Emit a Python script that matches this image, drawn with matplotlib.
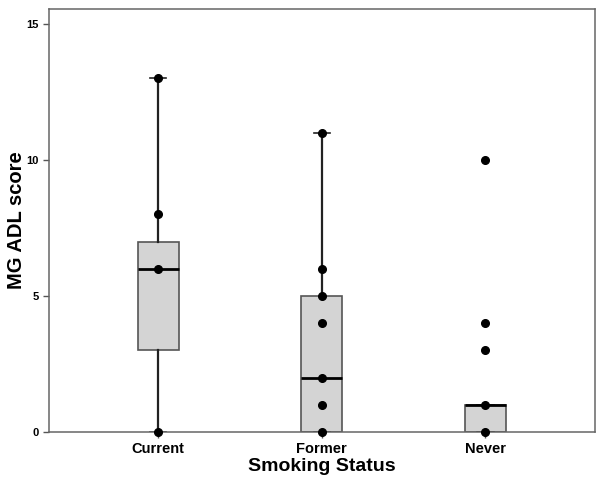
import matplotlib.pyplot as plt

# Smoking status groups and box statistics
groups = ['Current', 'Former', 'Never']
q1 = [3, 0, 0]
median = [6, 2, 1]
q3 = [7, 5, 1]
whis_lo = [0, 0, 0]
whis_hi = [13, 11, 1]

# individual observations drawn on top of each box
points_current = [13, 8, 6, 0]
points_former = [11, 6, 5, 4, 2, 1, 0]
points_never = [10, 4, 3, 1, 0]
points = [points_current, points_former, points_never]

yticks = [0, 5, 10, 15]

plt.rcParams['font.family'] = ['Liberation Sans', 'DejaVu Sans']
plt.rcParams['font.weight'] = 'bold'

fig = plt.figure(figsize=(6.04, 4.86), dpi=100)
ax = fig.add_axes([49 / 604, 1 - 432 / 486, (595 - 49) / 604, (432 - 9) / 486])

stats = []
for i in range(len(groups)):
    stats.append({'label': groups[i], 'q1': q1[i], 'med': median[i], 'q3': q3[i],
                  'whislo': whis_lo[i], 'whishi': whis_hi[i], 'fliers': []})

pos = [1, 2, 3]
ax.bxp(stats, positions=pos, widths=0.25, patch_artist=True, showfliers=False,
       boxprops=dict(facecolor='#d4d4d4', edgecolor='#555555', linewidth=1.2),
       medianprops=dict(color='black', linewidth=2),
       whiskerprops=dict(color='#222222', linewidth=1.6),
       capprops=dict(color='#222222', linewidth=1.2), capwidths=0.1)

for i, vals in enumerate(points):
    ax.plot([pos[i]] * len(vals), vals, 'o', color='black', markersize=5.5,
            zorder=5, clip_on=False)

ax.set_xlim(0.333, 3.67)
ax.set_ylim(0, 15.55)
ax.set_yticks(yticks)
ax.set_yticklabels([str(t) for t in yticks], fontsize=8, fontweight='bold')
ax.set_xticks(pos)
ax.set_xticklabels(groups, fontsize=10.5, fontweight='bold')
ax.tick_params(axis='both', direction='out', length=4, color='#555555', width=1)
for s in ax.spines.values():
    s.set_color('#666666')
    s.set_linewidth(1.1)

ax.set_xlabel('Smoking Status', fontsize=14, fontweight='bold', labelpad=1)
ax.set_ylabel('MG ADL score', fontsize=14.5, fontweight='bold', labelpad=0)

fig.savefig('out.png', dpi=100)
